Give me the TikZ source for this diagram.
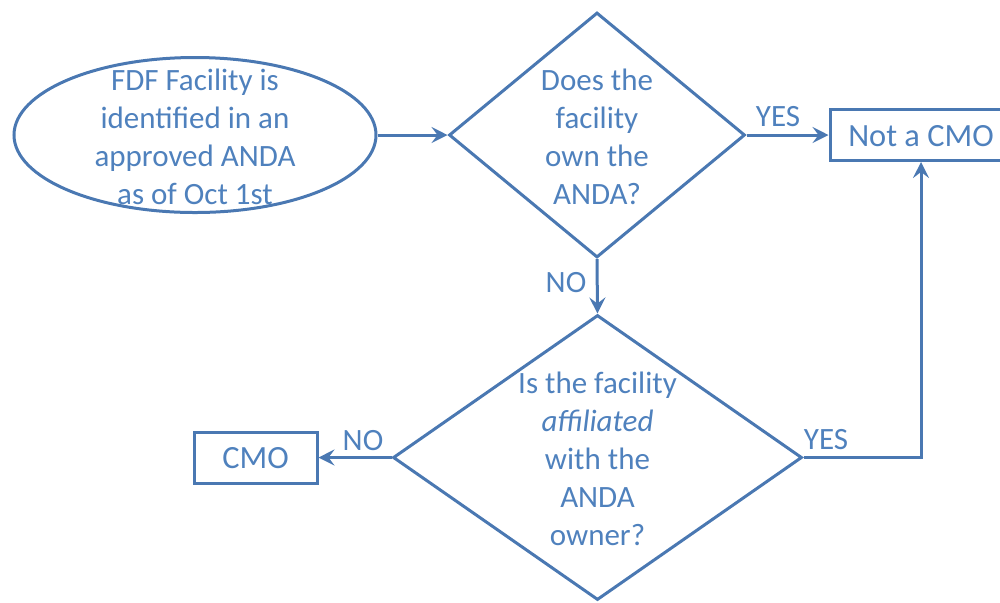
\documentclass[tikz,border=0pt]{standalone}
\usepackage{fontspec}
\setmainfont{Carlito}
\usetikzlibrary{shapes.geometric,arrows.meta}
\definecolor{ln}{RGB}{74,120,178}
\definecolor{tx}{RGB}{79,129,189}
\begin{document}
\begin{tikzpicture}[x=0.5pt,y=-0.5pt,
  shp/.style={draw=ln, line width=1.5pt, inner sep=0pt},
  dia/.style={shp, diamond},
  oval/.style={shp, ellipse},
  boxnode/.style={shp, rectangle},
  txt/.style={text=tx, font=\fontsize{15.5pt}{19pt}\selectfont, align=center, inner sep=0pt},
  lab/.style={text=tx, font=\fontsize{15.5pt}{17pt}\selectfont, inner sep=0pt},
  arr/.style={draw=ln, line width=1.5pt, -{Stealth[length=8pt,width=8pt,inset=3pt]}}]
\clip (0,0) rectangle (1000,602);
\useasboundingbox (0,0) rectangle (1000,602);
% shapes
\node[oval, minimum width=181pt, minimum height=77.5pt] (start) at (195,135) {};
\node[txt] (startt) at (195,137) {FDF Facility is\\identified in an\\approved ANDA\\as of Oct 1st};
\node[dia, minimum width=148pt, minimum height=122.5pt] (d1) at (597,135) {};
\node[txt] (d1t) at (597,137) {Does the\\facility\\own the\\ANDA?};
\node[boxnode, minimum width=91pt, minimum height=25.5pt] (notcmo) at (921,135) {};
\node[txt, font=\fontsize{16.2pt}{19pt}\selectfont] (notcmot) at (921,136) {Not a CMO};
\node[dia, minimum width=204.5pt, minimum height=142.5pt] (d2) at (597.5,457.5) {};
\node[txt] (d2t) at (597.5,459) {Is the facility\\\textit{affiliated}\\with the\\ANDA\\owner?};
\node[boxnode, minimum width=61.5pt, minimum height=25.5pt] (cmo) at (255.5,457.5) {};
\node[txt, font=\fontsize{16.2pt}{19pt}\selectfont] (cmot) at (255.5,458) {CMO};
% connectors
\draw[arr] (start.east) -- (d1.west);
\draw[arr] (d1.east) -- (notcmo.west);
\draw[arr] (d1.south) -- (d2.north);
\draw[arr] (d2.west) -- (cmo.east);
\draw[arr] (d2.east) -| (notcmo.south);
% labels
\node[lab] (yes1) at (778,117) {YES};
\node[lab] (no1) at (566,283) {NO};
\node[lab] (no2) at (363,441) {NO};
\node[lab] (yes2) at (826,440) {YES};
\end{tikzpicture}
\end{document}
